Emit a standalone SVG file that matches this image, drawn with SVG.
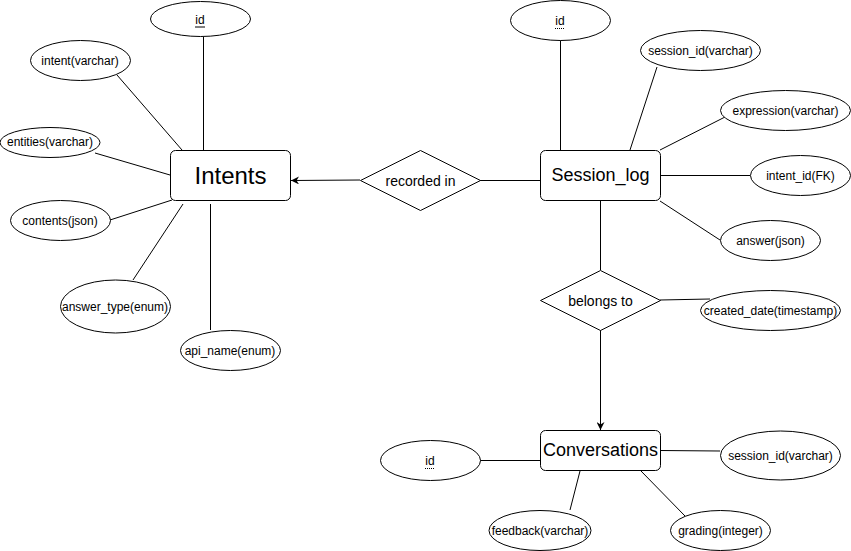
<svg xmlns="http://www.w3.org/2000/svg" width="851" height="551" viewBox="0 0 851 551">
  <style>
    .ent { fill: #ffffff; stroke: #000000; stroke-width: 1; }
    .attr { fill: #ffffff; stroke: #000000; stroke-width: 1; }
    .rel { fill: #ffffff; stroke: #000000; stroke-width: 1; }
    .edge { fill: none; stroke: #000000; stroke-width: 1; }
    text { font-family: "Liberation Sans", Arial, Helvetica, sans-serif; fill: #000000; text-anchor: middle; dominant-baseline: central; }
    .t-ent { font-size: 18px; }
    .t-big { font-size: 24px; }
    .t-rel { font-size: 14px; }
    .t-attr { font-size: 12px; }
    .ul { stroke: #000000; stroke-width: 1; }
    .ul-dot { stroke: #000000; stroke-width: 1; stroke-dasharray: 1 1; }
  </style>
  <defs>
    <marker id="arrow" viewBox="0 0 10 10" refX="10" refY="5" markerWidth="8" markerHeight="8" markerUnits="userSpaceOnUse" orient="auto">
      <path d="M0,0 L10,5 L0,10 L3,5 Z" fill="#000000"/>
    </marker>
  </defs>
  <rect width="851" height="551" fill="#ffffff"/>

  <g id="connectors">
    <!-- Intents attributes -->
    <line class="edge" x1="203.5" y1="37" x2="203.5" y2="150"/>
    <line class="edge" x1="117" y1="75" x2="182" y2="150"/>
    <line class="edge" x1="95" y1="153" x2="170" y2="175"/>
    <line class="edge" x1="110" y1="220" x2="172" y2="200"/>
    <line class="edge" x1="133" y1="280" x2="183" y2="204"/>
    <line class="edge" x1="210.5" y1="204" x2="210.5" y2="330"/>
    <!-- recorded in -->
    <line class="edge" x1="360" y1="180" x2="291" y2="180.5" marker-end="url(#arrow)"/>
    <line class="edge" x1="480" y1="180.5" x2="540" y2="180.5"/>
    <!-- Session_log attributes -->
    <line class="edge" x1="560.5" y1="40" x2="560.5" y2="150"/>
    <line class="edge" x1="657" y1="67" x2="630" y2="150"/>
    <line class="edge" x1="725" y1="117" x2="660" y2="150"/>
    <line class="edge" x1="660" y1="175.5" x2="750" y2="175.5"/>
    <line class="edge" x1="660" y1="201" x2="720" y2="240"/>
    <!-- belongs to -->
    <line class="edge" x1="600.5" y1="200" x2="600.5" y2="270"/>
    <line class="edge" x1="660" y1="300" x2="710" y2="299"/>
    <line class="edge" x1="600.5" y1="330" x2="600.5" y2="430" marker-end="url(#arrow)"/>
    <!-- Conversations attributes -->
    <line class="edge" x1="480" y1="460.5" x2="540" y2="460.5"/>
    <line class="edge" x1="660" y1="450.5" x2="720" y2="451"/>
    <line class="edge" x1="580" y1="471" x2="570" y2="510"/>
    <line class="edge" x1="641" y1="471" x2="685" y2="516"/>
  </g>

  <!-- Intents entity and its attributes -->
  <g id="intents">
    <rect class="ent" x="170.5" y="150.5" width="120" height="50" rx="5"/>
    <text class="t-big" x="230.5" y="175.5">Intents</text>
  </g>
  <g id="intents-id">
    <ellipse class="attr" cx="200.5" cy="19" rx="50" ry="17.5"/>
    <text class="t-attr" x="200" y="20">id</text>
    <line class="ul" x1="195" y1="27" x2="205" y2="27"/>
  </g>
  <g id="intents-intent">
    <ellipse class="attr" cx="80.5" cy="60.5" rx="50" ry="20"/>
    <text class="t-attr" x="80" y="61">intent(varchar)</text>
  </g>
  <g id="intents-entities">
    <ellipse class="attr" cx="50" cy="142.5" rx="50" ry="15"/>
    <text class="t-attr" x="50" y="142">entities(varchar)</text>
  </g>
  <g id="intents-contents">
    <ellipse class="attr" cx="60.5" cy="220.5" rx="50" ry="20"/>
    <text class="t-attr" x="60" y="221">contents(json)</text>
  </g>
  <g id="intents-answer-type">
    <ellipse class="attr" cx="115.5" cy="306.5" rx="55" ry="26.5"/>
    <text class="t-attr" x="115" y="307">answer_type(enum)</text>
  </g>
  <g id="intents-api-name">
    <ellipse class="attr" cx="230.5" cy="350.5" rx="50" ry="20"/>
    <text class="t-attr" x="230" y="351">api_name(enum)</text>
  </g>

  <!-- relationship: recorded in -->
  <g id="recorded-in">
    <polygon class="rel" points="360.5,180.5 420.5,150.5 480.5,180.5 420.5,210.5"/>
    <text class="t-rel" x="420.5" y="181">recorded in</text>
  </g>

  <!-- Session_log entity and its attributes -->
  <g id="session-log">
    <rect class="ent" x="540.5" y="150.5" width="120" height="50" rx="5"/>
    <text class="t-ent" x="600.5" y="175">Session_log</text>
  </g>
  <g id="session-log-id">
    <ellipse class="attr" cx="560.5" cy="20.5" rx="50" ry="20"/>
    <text class="t-attr" x="560" y="21">id</text>
    <line class="ul-dot" x1="555" y1="28.5" x2="565" y2="28.5"/>
  </g>
  <g id="session-log-session-id">
    <ellipse class="attr" cx="700.5" cy="50.5" rx="60" ry="20"/>
    <text class="t-attr" x="700.5" y="51">session_id(varchar)</text>
  </g>
  <g id="session-log-expression">
    <ellipse class="attr" cx="785.5" cy="110.5" rx="65" ry="20"/>
    <text class="t-attr" x="785.5" y="111">expression(varchar)</text>
  </g>
  <g id="session-log-intent-id">
    <ellipse class="attr" cx="800.5" cy="175.5" rx="50" ry="20"/>
    <text class="t-attr" x="800.5" y="176">intent_id(FK)</text>
  </g>
  <g id="session-log-answer">
    <ellipse class="attr" cx="770.5" cy="240.5" rx="50" ry="20"/>
    <text class="t-attr" x="770.5" y="241">answer(json)</text>
  </g>

  <!-- relationship: belongs to -->
  <g id="belongs-to">
    <polygon class="rel" points="540.5,300.5 600.5,270.5 660.5,300.5 600.5,330.5"/>
    <text class="t-rel" x="600.5" y="301">belongs to</text>
  </g>
  <g id="belongs-to-created-date">
    <ellipse class="attr" cx="770.5" cy="310.5" rx="70" ry="20"/>
    <text class="t-attr" x="770.5" y="311">created_date(timestamp)</text>
  </g>

  <!-- Conversations entity and its attributes -->
  <g id="conversations">
    <rect class="ent" x="540.5" y="430.5" width="120" height="40" rx="5"/>
    <text class="t-ent" x="600.5" y="449.5">Conversations</text>
  </g>
  <g id="conversations-id">
    <ellipse class="attr" cx="430.5" cy="460.5" rx="50" ry="20"/>
    <text class="t-attr" x="430" y="461">id</text>
    <line class="ul-dot" x1="425" y1="468.5" x2="435" y2="468.5"/>
  </g>
  <g id="conversations-session-id">
    <ellipse class="attr" cx="780.5" cy="455.5" rx="60" ry="24.5"/>
    <text class="t-attr" x="780.5" y="456">session_id(varchar)</text>
  </g>
  <g id="conversations-feedback">
    <ellipse class="attr" cx="540" cy="530.5" rx="51" ry="20"/>
    <text class="t-attr" x="540" y="531">feedback(varchar)</text>
  </g>
  <g id="conversations-grading">
    <ellipse class="attr" cx="720.5" cy="530.5" rx="50" ry="20"/>
    <text class="t-attr" x="720.5" y="531">grading(integer)</text>
  </g>
</svg>
